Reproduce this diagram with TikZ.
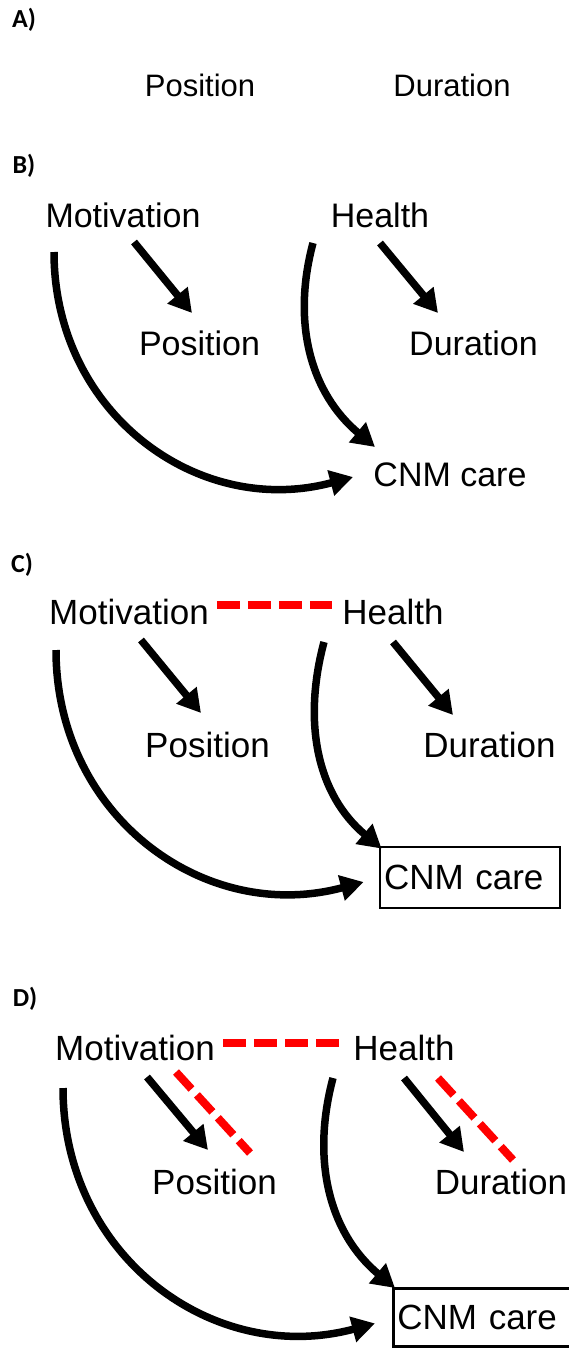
\documentclass[tikz,border=0pt]{standalone}
\usepackage{fontspec}
\setmainfont{Liberation Sans}
\newfontfamily\painelfont{Carlito}
\usetikzlibrary{
  arrows.meta,
  calc
}

\begin{document}
\begin{tikzpicture}[
        x=1pt, y=1pt,
        rotulo/.style={inner sep=0pt, font=\fontsize{#1}{#1}\selectfont},
        painel/.style={inner sep=0pt, font=\painelfont\bfseries\fontsize{26}{26}\selectfont},
        seta/.style={-{Triangle[length=23pt,width=25pt]}, line width=7.5pt},
        tracejado/.style={red, line width=8pt, dash pattern=on 23pt off 8pt},
        caixa/.style={draw, line width=2.8pt, inner xsep=4pt, inner ysep=0pt,
                      align=left, font=\fontsize{35}{35}\selectfont},
        volta/.style={out=-90, in=195, looseness=1.1},
        curva/.style={out=-105, in=140, looseness=1.0}
    ]
        \useasboundingbox (0,0) rectangle (568,-1349);

        % A) only the two outcomes
        \node[painel] (la) at (24,-20) {A)};
        \node[rotulo=31] (pA) at (200,-85) {Position};
        \node[rotulo=31] (dA) at (452,-85) {Duration};

        % B)
        \node[painel] (lb) at (24,-166) {B)};
        \node[rotulo=34] (mB) at (123,-215) {Motivation};
        \node[rotulo=34] (hB) at (380,-215) {Health};
        \node[rotulo=34] (pB) at (199.5,-343) {Position};
        \node[rotulo=34] (dB) at (473.5,-343) {Duration};
        \node[rotulo=34] (cB) at (450,-475) {CNM care};
        \draw[seta] ($(mB)+(11,-27)$) -- ($(pB)+(-7.5,30)$);
        \draw[seta] ($(hB)+(0,-28)$) -- ($(dB)+(-35.5,30)$);
        \draw[seta] ($(mB)+(-69,-37)$) to[volta] ($(cB)+(-97,-2)$);
        \draw[seta] ($(hB)+(-67,-28)$) to[curva] ($(cB)+(-75,28)$);

        % C) motivation and health linked
        \node[painel] (lc) at (22,-565) {C)};
        \node[rotulo=35] (mC) at (129,-612) {Motivation};
        \node[rotulo=35] (hC) at (393,-612) {Health};
        \node[rotulo=35] (pC) at (207.5,-745) {Position};
        \node[rotulo=35] (dC) at (489.5,-745) {Duration};
        \node[caixa, text width=172pt, minimum height=61pt] (cC) at (470,-877.5) {CNM care};
        \draw[tracejado] ($(mC.east)+(8,7)$) -- ($(hC.west)+(-10,7)$);
        \draw[seta] ($(mC)+(12,-28)$) -- ($(pC)+(-6.5,32)$);
        \draw[seta] ($(hC)+(0,-30)$) -- ($(dC)+(-36.5,30)$);
        \draw[seta] ($(mC)+(-73,-38)$) to[volta] ($(cC.west)+(-15,-4.5)$);
        \draw[seta] ($(hC)+(-69,-30)$) to[curva] ($(cC.north west)+(3,-3)$);

        % D) also linked to the outcomes
        \node[painel] (ld) at (25,-999) {D)};
        \node[rotulo=35] (mD) at (135,-1048) {Motivation};
        \node[rotulo=35] (hD) at (404,-1048) {Health};
        \node[rotulo=35] (pD) at (214.5,-1182) {Position};
        \node[rotulo=35] (dD) at (501,-1182) {Duration};
        \node[caixa, text width=177pt, minimum height=58pt, anchor=north west] (cD) at (392,-1287) {CNM care};
        \draw[tracejado] ($(mD.east)+(8.5,5)$) -- ($(hD.west)+(-11,5)$);
        \draw[seta] ($(mD)+(12,-29)$) -- ($(pD)+(-6.5,32)$);
        \draw[tracejado] ($(mD)+(41,-24)$) -- ($(pD)+(35.5,29)$);
        \draw[seta] ($(hD)+(0,-30)$) -- ($(dD)+(-37,30)$);
        \draw[tracejado] ($(hD)+(34,-30)$) -- ($(dD)+(12,22)$);
        \draw[seta] ($(mD)+(-72,-40)$) to[volta] ($(cD.west)+(-17,-6)$);
        \draw[seta] ($(hD)+(-71,-30)$) to[curva] ($(cD.north west)+(3,-1)$);
    \end{tikzpicture}
\end{document}
